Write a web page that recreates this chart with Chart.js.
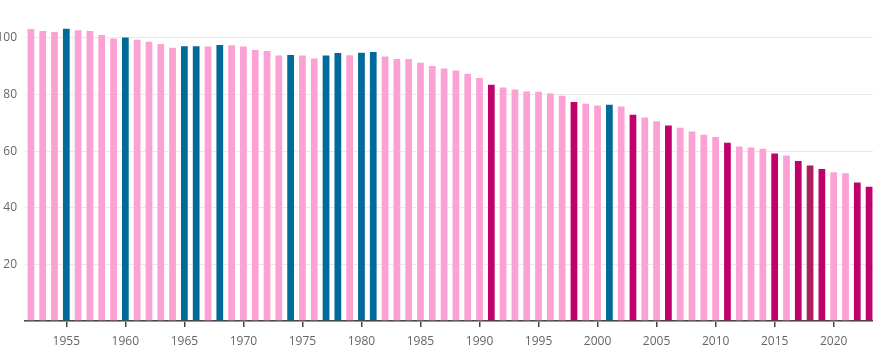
<!DOCTYPE html>
<html>
<head>
<meta charset="utf-8">
<script src="https://cdn.jsdelivr.net/npm/chart.js@4"></script>
<style>
    html, body { margin: 0; padding: 0; background: #fff; overflow: hidden; }
    #wrap { position: absolute; left: -15px; top: 0; width: 895px; height: 352px; }
</style>
</head>
<body>
<div id="wrap"><canvas id="chart"></canvas></div>
<script>
const years = [];
for (let y = 1952; y <= 2023; y++) years.push(y);

const values = [
    103.5, 102.8, 102.4, 103.6, 103.0, 102.8, 101.4, 100.1, 100.5, 99.7,
    99.0, 98.2, 96.9, 97.4, 97.4, 97.3, 97.8, 97.7, 97.3, 96.1,
    95.7, 94.1, 94.3, 94.1, 93.1, 94.1, 95.0, 94.2, 95.1, 95.4,
    93.8, 92.9, 92.9, 91.6, 90.4, 89.5, 88.8, 87.7, 86.2, 83.8,
    82.8, 82.1, 81.4, 81.3, 80.7, 79.9, 77.7, 77.1, 76.5, 76.7,
    76.1, 73.2, 72.2, 70.9, 69.4, 68.6, 67.3, 66.1, 65.3, 63.3,
    62.0, 61.6, 61.2, 59.5, 58.8, 56.9, 55.3, 54.0, 52.9, 52.5,
    49.3, 47.8
];

// which years are picked out in another colour
const blueYears = [1955, 1960, 1965, 1966, 1968, 1974, 1977, 1978, 1980, 1981, 2001];
const redYears = [1991, 1998, 2003, 2006, 2011, 2015, 2017, 2019, 2022, 2023];
const darkYears = [2018];

const yTicks = [0, 20, 40, 60, 80, 100];

const PINK = '#fba1d3';
const BLUE = '#006a9b';
const RED = '#c0006b';
const DARK = '#ab1f61';

const colors = years.map(y => {
    if (blueYears.includes(y)) return BLUE;
    if (redYears.includes(y)) return RED;
    if (darkYears.includes(y)) return DARK;
    return PINK;
});

new Chart(document.getElementById('chart'), {
    type: 'bar',
    data: {
        labels: years,
        datasets: [{
            data: values,
            backgroundColor: colors,
            borderColor: 'rgba(255,255,255,0.35)',
            borderWidth: 1,
            categoryPercentage: 1,
            barPercentage: 0.74
        }]
    },
    options: {
        responsive: true,
        maintainAspectRatio: false,
        animation: false,
        layout: { padding: { top: 0, right: 5, bottom: 0, left: 0 } },
        plugins: { legend: { display: false }, tooltip: { enabled: false } },
        scales: {
            x: {
                afterFit: s => { s.height = 31; },
                grid: { display: true, drawOnChartArea: false, drawTicks: true, tickLength: 6, offset: false, color: '#444', lineWidth: 1.5 },
                border: { display: true, color: '#444', width: 1.5 },
                ticks: {
                    autoSkip: false,
                    maxRotation: 0,
                    padding: 7,
                    color: '#666',
                    font: { family: 'Open Sans', size: 12 },
                    callback: function (v) {
                        const yr = years[v];
                        return yr % 5 === 0 ? String(yr) : null;
                    }
                }
            },
            y: {
                min: 0,
                max: 108,
                afterBuildTicks: s => { s.ticks = yTicks.map(v => ({ value: v })); },
                afterFit: s => { s.width = 40; },
                grid: { color: '#e8e8e8', drawTicks: false },
                border: { display: false },
                ticks: {
                    padding: 8,
                    color: '#666',
                    font: { family: 'Open Sans', size: 12 },
                    callback: v => v === 0 ? '' : v
                }
            }
        }
    }
});
</script>
</body>
</html>
